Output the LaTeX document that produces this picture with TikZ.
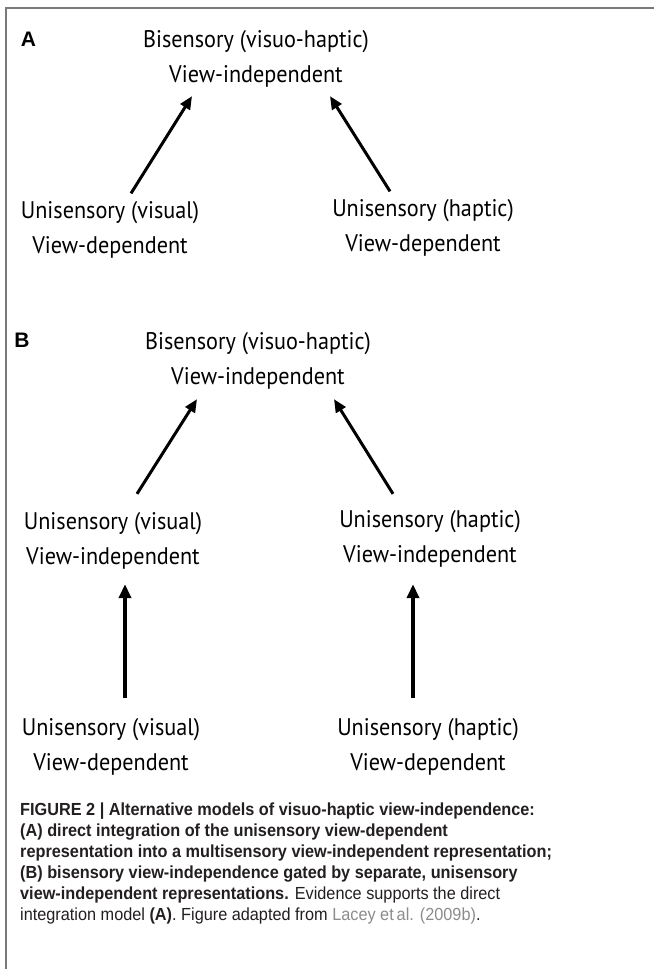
\documentclass[tikz,border=0pt]{standalone}
\usepackage{fontspec}
\setmainfont[FakeStretch=0.925]{PT Sans}
\newfontfamily\capfont[FakeStretch=0.93]{Liberation Sans}
\newfontfamily\letterfont{Liberation Sans}
\usetikzlibrary{arrows.meta}
\definecolor{framegray}{HTML}{7A7A7A}
\definecolor{citegray}{HTML}{8C8C8C}
\definecolor{captext}{HTML}{231F20}
\tikzset{
  % representation labels
  rep/.style={align=center, inner sep=0pt, font=\fontsize{24}{35}\selectfont},
  % panel letters
  panel/.style={inner sep=0pt, font=\letterfont\bfseries\fontsize{21}{21}\selectfont},
  % arrows between representations
  feed/.style={line width=3pt, -{Triangle[length=13pt,width=11pt]}},
  lift/.style={line width=3.5pt, -{Triangle[length=14pt,width=12pt]}},
}

\begin{document}
\begin{tikzpicture}[x=1pt,y=-1pt]
  \useasboundingbox (0,0) rectangle (654,969);
  \draw[framegray, line width=2pt] (654,8) -- (6,8) -- (6,969);

  % panel A
  \node[panel] (labA) at (28.5,39.5) {A};
  \node[rep] (biA) at (256,58.5) {Bisensory (visuo-haptic)\\View-independent};
  \node[rep] (visA) at (110,230) {Unisensory (visual)\\View-dependent};
  \node[rep] (hapA) at (423,228) {Unisensory (haptic)\\View-dependent};

  \draw[feed] ([shift={(21,-8)}]visA.north) -- ([shift={(-64,9)}]biA.south);
  \draw[feed] ([shift={(-33,-8)}]hapA.north) -- ([shift={(74,9)}]biA.south);

  % panel B
  \node[panel] (labB) at (22,340) {B};
  \node[rep] (biB) at (258,360.5) {Bisensory (visuo-haptic)\\View-independent};
  \node[rep] (visB) at (113,540.5) {Unisensory (visual)\\View-independent};
  \node[rep] (hapB) at (430,538.5) {Unisensory (haptic)\\View-independent};
  \node[rep] (visD) at (111,747) {Unisensory (visual)\\View-dependent};
  \node[rep] (hapD) at (428,747) {Unisensory (haptic)\\View-dependent};

  \draw[feed] ([shift={(24,-18)}]visB.north) -- ([shift={(-61,10)}]biB.south);
  \draw[feed] ([shift={(-37,-16)}]hapB.north) -- ([shift={(76,10)}]biB.south);
  \draw[lift] ([shift={(14,-20)}]visD.north) -- ([shift={(12,15)}]visB.south);
  \draw[lift] ([shift={(-15,-20)}]hapD.north) -- ([shift={(-17,17)}]hapB.south);

  % caption
  \node[anchor=north west, align=left, inner sep=0pt, text=captext,
        font=\capfont\fontsize{17.5}{21}\selectfont] (cap) at (20,803)
    {\bfseries FIGURE 2 | Alternative models of visuo-haptic view-independence:\\
     \bfseries (A) direct integration of the unisensory view-dependent\\
     \bfseries representation into a multisensory view-independent representation;\\
     \bfseries (B) bisensory view-independence gated by separate, unisensory\\
     {\bfseries view-independent representations.} Evidence supports the direct\\
     integration model {\bfseries (A)}. Figure adapted from {\color{citegray}Lacey et\,al. (2009b)}.};
\end{tikzpicture}
\end{document}
